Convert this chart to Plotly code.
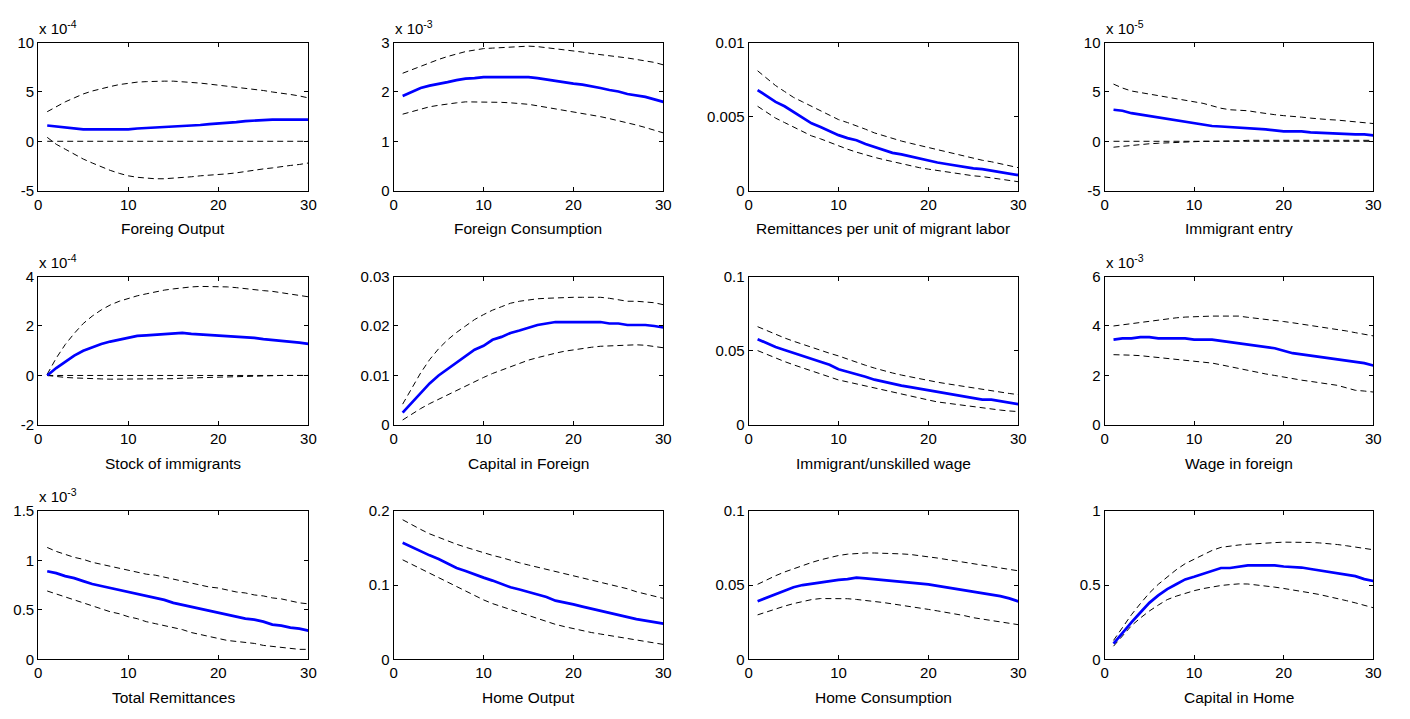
import plotly.graph_objects as go

W, H = 1410, 719
periods = list(range(1, 31))

# ---------------- data (values in axis units; multiplier shown in the corner label) ----------------
titles = ["Foreing Output", "Foreign Consumption", "Remittances per unit of migrant labor", "Immigrant entry",
          "Stock of immigrants", "Capital in Foreign", "Immigrant/unskilled wage", "Wage in foreign",
          "Total Remittances", "Home Output", "Home Consumption", "Capital in Home"]
multipliers = ["-4", "-3", None, "-5", "-4", None, None, "-3", "-3", None, None, None]
zero_line_panels = [0, 3, 4]

foreign_output_mean = [1.6,1.5,1.35,1.25,1.2,1.2,1.2,1.2,1.2,1.2,1.3,1.35,1.35,1.4,1.5,1.5,1.6,1.65,1.75,1.8,1.9,1.95,2.05,2.1,2.2,2.2,2.2,2.2,2.2,2.2]
foreign_output_upper = [3.0,3.5,4.0,4.4,4.8,5.1,5.35,5.55,5.75,5.9,6.0,6.05,6.1,6.1,6.1,6.05,6.0,5.9,5.8,5.7,5.6,5.5,5.4,5.3,5.15,5.0,4.9,4.75,4.6,4.4]
foreign_output_lower = [0.4,-0.3,-0.8,-1.3,-1.8,-2.2,-2.6,-2.95,-3.25,-3.5,-3.65,-3.75,-3.8,-3.8,-3.75,-3.7,-3.6,-3.5,-3.45,-3.4,-3.3,-3.2,-3.05,-2.95,-2.8,-2.7,-2.55,-2.45,-2.35,-2.2]

foreign_cons_mean = [1.92,2.0,2.08,2.13,2.16,2.2,2.24,2.27,2.28,2.3,2.3,2.3,2.3,2.3,2.3,2.28,2.25,2.22,2.2,2.17,2.15,2.12,2.08,2.04,2.01,1.96,1.93,1.9,1.85,1.8]
foreign_cons_upper = [2.38,2.45,2.53,2.6,2.66,2.72,2.77,2.82,2.85,2.88,2.89,2.9,2.91,2.92,2.93,2.92,2.9,2.88,2.86,2.84,2.81,2.78,2.76,2.73,2.71,2.69,2.66,2.63,2.6,2.55]
foreign_cons_lower = [1.55,1.6,1.65,1.7,1.73,1.76,1.78,1.8,1.8,1.8,1.8,1.79,1.78,1.77,1.75,1.72,1.69,1.66,1.63,1.6,1.57,1.53,1.5,1.46,1.42,1.38,1.33,1.28,1.22,1.17]

remit_unit_mean = [0.0068,0.0064,0.0060,0.0057,0.0053,0.0049,0.00455,0.0043,0.0040,0.00375,0.00355,0.0034,0.00315,0.00295,0.00275,0.00255,0.00245,0.0023,0.00215,0.0020,0.0019,0.0018,0.0017,0.00155,0.0015,0.00145,0.00135,0.00125,0.00115,0.00105]
remit_unit_upper = [0.0081,0.0076,0.0071,0.0067,0.0063,0.0060,0.0057,0.0054,0.0051,0.0048,0.0046,0.0044,0.00415,0.0039,0.0037,0.0035,0.00335,0.0032,0.00305,0.0029,0.00275,0.0026,0.00245,0.0023,0.0022,0.00205,0.00195,0.0018,0.0017,0.00155]
remit_unit_lower = [0.0057,0.0053,0.0049,0.0046,0.0043,0.0040,0.0037,0.0035,0.00325,0.0030,0.0028,0.0026,0.0024,0.00225,0.0021,0.00195,0.0018,0.0017,0.00155,0.00145,0.00135,0.00125,0.00115,0.0011,0.0010,0.00095,0.00085,0.0008,0.0007,0.0006]

entry_mean = [3.2,3.1,2.85,2.7,2.55,2.4,2.25,2.1,1.95,1.8,1.65,1.55,1.5,1.45,1.4,1.3,1.25,1.2,1.1,1.0,1.0,1.0,0.9,0.85,0.85,0.8,0.75,0.7,0.7,0.6]
entry_upper = [5.8,5.4,5.1,4.95,4.8,4.6,4.45,4.3,4.15,4.0,3.85,3.6,3.35,3.2,3.15,3.1,2.95,2.8,2.7,2.6,2.55,2.45,2.35,2.25,2.2,2.15,2.05,1.95,1.85,1.8]
entry_lower = [-0.6,-0.5,-0.4,-0.3,-0.25,-0.2,-0.15,-0.1,-0.1,-0.05,0,0,0,0,0.05,0.1,0.1,0.1,0.1,0.1,0.1,0.1,0.1,0.1,0.1,0.1,0.1,0.1,0.1,0.1]

stock_mean = [0.0,0.3,0.55,0.8,1.0,1.15,1.27,1.37,1.45,1.53,1.6,1.62,1.65,1.67,1.7,1.72,1.68,1.66,1.65,1.62,1.6,1.57,1.55,1.52,1.47,1.44,1.4,1.35,1.33,1.28]
stock_upper = [0.05,0.7,1.25,1.7,2.1,2.4,2.65,2.85,3.0,3.12,3.22,3.3,3.38,3.45,3.5,3.55,3.58,3.6,3.6,3.6,3.58,3.55,3.5,3.47,3.43,3.4,3.35,3.3,3.25,3.18]
stock_lower = [0,-0.05,-0.08,-0.1,-0.12,-0.13,-0.14,-0.15,-0.15,-0.15,-0.15,-0.15,-0.15,-0.15,-0.13,-0.11,-0.1,-0.09,-0.07,-0.05,-0.04,-0.03,-0.02,-0.01,0,0,0,0,0,0]

capital_foreign_mean = [0.0025,0.0045,0.0065,0.0084,0.0100,0.0113,0.0127,0.0140,0.0152,0.0160,0.0172,0.0178,0.0186,0.0191,0.0196,0.0202,0.0205,0.0208,0.0208,0.0208,0.0208,0.0208,0.0208,0.0205,0.0205,0.0202,0.0202,0.0202,0.0200,0.0197]
capital_foreign_upper = [0.0042,0.0075,0.0105,0.0132,0.0154,0.0172,0.0187,0.0200,0.0213,0.0223,0.0232,0.0239,0.0246,0.0250,0.0253,0.0255,0.0256,0.0257,0.0258,0.0258,0.0258,0.0258,0.0258,0.0256,0.0253,0.0250,0.0250,0.0249,0.0247,0.0243]
capital_foreign_lower = [0.0010,0.0022,0.0033,0.0043,0.0052,0.0061,0.0070,0.0079,0.0088,0.0096,0.0104,0.0111,0.0118,0.0125,0.0131,0.0136,0.0141,0.0145,0.0149,0.0152,0.0155,0.0157,0.0159,0.0160,0.0161,0.0162,0.0162,0.0161,0.0159,0.0156]

imm_wage_mean = [0.0578,0.0550,0.0525,0.0505,0.0485,0.0465,0.0445,0.0425,0.0405,0.0375,0.0360,0.0345,0.0325,0.0305,0.0290,0.0280,0.0265,0.0255,0.0245,0.0230,0.0220,0.0210,0.0200,0.0190,0.0180,0.0170,0.0170,0.0160,0.0150,0.0140]
imm_wage_upper = [0.0662,0.0635,0.0610,0.0586,0.0564,0.0543,0.0522,0.0502,0.0483,0.0465,0.0443,0.0422,0.0402,0.0383,0.0365,0.0350,0.0336,0.0323,0.0310,0.0298,0.0288,0.0278,0.0268,0.0258,0.0248,0.0239,0.0230,0.0221,0.0212,0.0204]
imm_wage_lower = [0.0501,0.0475,0.0450,0.0427,0.0405,0.0385,0.0365,0.0347,0.0326,0.0303,0.0290,0.0276,0.0262,0.0248,0.0233,0.0220,0.0207,0.0193,0.0180,0.0168,0.0155,0.0147,0.0139,0.0129,0.0120,0.0113,0.0106,0.0100,0.0094,0.0090]

wage_foreign_mean = [3.45,3.5,3.5,3.55,3.55,3.5,3.5,3.5,3.5,3.45,3.45,3.45,3.4,3.35,3.3,3.25,3.2,3.15,3.1,3.0,2.9,2.85,2.8,2.75,2.7,2.65,2.6,2.55,2.5,2.4]
wage_foreign_upper = [4.0,4.05,4.1,4.15,4.2,4.25,4.3,4.33,4.36,4.38,4.4,4.4,4.4,4.4,4.4,4.35,4.3,4.25,4.22,4.18,4.13,4.08,4.03,3.98,3.92,3.86,3.8,3.73,3.67,3.6]
wage_foreign_lower = [2.84,2.84,2.82,2.8,2.76,2.73,2.7,2.67,2.63,2.59,2.55,2.5,2.43,2.35,2.27,2.2,2.13,2.06,2.0,1.93,1.87,1.81,1.76,1.71,1.66,1.6,1.5,1.4,1.37,1.33]

total_remit_mean = [0.89,0.87,0.84,0.82,0.79,0.76,0.74,0.72,0.70,0.68,0.66,0.64,0.62,0.60,0.57,0.55,0.53,0.51,0.49,0.47,0.45,0.43,0.41,0.40,0.38,0.35,0.34,0.32,0.31,0.29]
total_remit_upper = [1.13,1.09,1.06,1.03,1.01,0.98,0.96,0.94,0.92,0.90,0.88,0.86,0.85,0.83,0.81,0.79,0.77,0.75,0.73,0.72,0.70,0.68,0.67,0.65,0.64,0.62,0.61,0.59,0.57,0.56]
total_remit_lower = [0.69,0.66,0.63,0.60,0.57,0.54,0.51,0.48,0.46,0.43,0.41,0.38,0.36,0.34,0.32,0.30,0.27,0.25,0.23,0.21,0.19,0.18,0.17,0.16,0.14,0.13,0.12,0.11,0.10,0.10]

home_output_mean = [0.157,0.151,0.145,0.140,0.135,0.129,0.123,0.119,0.114,0.110,0.106,0.101,0.097,0.094,0.091,0.087,0.084,0.079,0.077,0.074,0.071,0.068,0.065,0.062,0.060,0.056,0.054,0.052,0.050,0.048]
home_output_upper = [0.188,0.181,0.175,0.169,0.164,0.159,0.155,0.151,0.147,0.143,0.140,0.137,0.133,0.130,0.127,0.124,0.121,0.118,0.116,0.113,0.110,0.107,0.104,0.101,0.098,0.095,0.091,0.088,0.085,0.082]
home_output_lower = [0.134,0.128,0.121,0.115,0.109,0.103,0.097,0.091,0.086,0.080,0.075,0.071,0.066,0.062,0.058,0.054,0.051,0.047,0.044,0.041,0.039,0.036,0.034,0.032,0.030,0.028,0.026,0.024,0.022,0.020]

home_cons_mean = [0.0391,0.0415,0.0440,0.0465,0.0485,0.0500,0.0510,0.0520,0.0530,0.0535,0.0540,0.0550,0.0545,0.0540,0.0535,0.0530,0.0525,0.0515,0.0510,0.0505,0.0495,0.0485,0.0480,0.0470,0.0460,0.0445,0.0435,0.0425,0.0410,0.0390]
home_cons_upper = [0.0505,0.0535,0.0563,0.0588,0.0610,0.0632,0.0652,0.0670,0.0685,0.0699,0.0708,0.0713,0.0716,0.0716,0.0715,0.0713,0.0710,0.0706,0.0700,0.0690,0.0682,0.0673,0.0663,0.0653,0.0644,0.0634,0.0625,0.0615,0.0606,0.0596]
home_cons_lower = [0.0299,0.0320,0.0340,0.0358,0.0375,0.0390,0.0402,0.0409,0.0410,0.0410,0.0408,0.0403,0.0397,0.0390,0.0382,0.0373,0.0365,0.0356,0.0346,0.0336,0.0326,0.0316,0.0306,0.0294,0.0280,0.0270,0.0261,0.0251,0.0242,0.0233]

capital_home_mean = [0.105,0.18,0.248,0.315,0.38,0.43,0.473,0.505,0.538,0.556,0.574,0.594,0.615,0.615,0.624,0.633,0.633,0.633,0.633,0.625,0.622,0.618,0.608,0.598,0.589,0.58,0.57,0.56,0.54,0.527]
capital_home_upper = [0.127,0.215,0.30,0.375,0.446,0.505,0.556,0.603,0.644,0.675,0.705,0.733,0.754,0.763,0.77,0.775,0.78,0.783,0.786,0.789,0.79,0.789,0.787,0.784,0.78,0.773,0.765,0.757,0.748,0.738]
capital_home_lower = [0.088,0.16,0.226,0.278,0.325,0.365,0.402,0.425,0.446,0.462,0.476,0.488,0.497,0.503,0.508,0.507,0.501,0.494,0.486,0.477,0.468,0.458,0.447,0.436,0.424,0.41,0.395,0.38,0.363,0.347]

means = [foreign_output_mean, foreign_cons_mean, remit_unit_mean, entry_mean,
         stock_mean, capital_foreign_mean, imm_wage_mean, wage_foreign_mean,
         total_remit_mean, home_output_mean, home_cons_mean, capital_home_mean]
uppers = [foreign_output_upper, foreign_cons_upper, remit_unit_upper, entry_upper,
          stock_upper, capital_foreign_upper, imm_wage_upper, wage_foreign_upper,
          total_remit_upper, home_output_upper, home_cons_upper, capital_home_upper]
lowers = [foreign_output_lower, foreign_cons_lower, remit_unit_lower, entry_lower,
          stock_lower, capital_foreign_lower, imm_wage_lower, wage_foreign_lower,
          total_remit_lower, home_output_lower, home_cons_lower, capital_home_lower]

y_tickvals = [[-5, 0, 5, 10], [0, 1, 2, 3], [0, 0.005, 0.01], [-5, 0, 5, 10],
              [-2, 0, 2, 4], [0, 0.01, 0.02, 0.03], [0, 0.05, 0.1], [0, 2, 4, 6],
              [0, 0.5, 1, 1.5], [0, 0.1, 0.2], [0, 0.05, 0.1], [0, 0.5, 1]]
y_ticktext = [["-5", "0", "5", "10"], ["0", "1", "2", "3"], ["0", "0.005", "0.01"], ["-5", "0", "5", "10"],
              ["-2", "0", "2", "4"], ["0", "0.01", "0.02", "0.03"], ["0", "0.05", "0.1"], ["0", "2", "4", "6"],
              ["0", "0.5", "1", "1.5"], ["0", "0.1", "0.2"], ["0", "0.05", "0.1"], ["0", "0.5", "1"]]
x_tickvals = [0, 10, 20, 30]
x_ticktext = ["0", "10", "20", "30"]

# ---------------- layout geometry (pixels) ----------------
col_px = [(34.5, 307), (393, 665), (751, 1023), (1110, 1381)]
row_px = [(34.5, 186), (274, 426), (514, 666)]

FONT = "Arial, Liberation Sans, Helvetica, sans-serif"
TICK_SIZE = 15
TITLE_SIZE = 15.5
LINE_W = 1
fig = go.Figure()
annotations = []
axes = {}
dash = "6px,4px"

for i in range(12):
    r, c = divmod(i, 4)
    n = i + 1
    xa = "x" if n == 1 else f"x{n}"
    ya = "y" if n == 1 else f"y{n}"
    if i in zero_line_panels:
        fig.add_trace(go.Scatter(x=periods, y=[0] * len(periods), mode="lines", xaxis=xa, yaxis=ya,
                                 line=dict(color="black", width=1, dash=dash), showlegend=False, hoverinfo="skip"))
    fig.add_trace(go.Scatter(x=periods, y=uppers[i], mode="lines", xaxis=xa, yaxis=ya,
                             line=dict(color="black", width=1, dash=dash), showlegend=False))
    fig.add_trace(go.Scatter(x=periods, y=lowers[i], mode="lines", xaxis=xa, yaxis=ya,
                             line=dict(color="black", width=1, dash=dash), showlegend=False))
    fig.add_trace(go.Scatter(x=periods, y=means[i], mode="lines", xaxis=xa, yaxis=ya,
                             line=dict(color="rgb(0,0,255)", width=2.7), showlegend=False))

    x0, x1 = col_px[c]
    y0, y1 = row_px[r]
    tv = y_tickvals[i]
    common = dict(showline=True, linecolor="black", linewidth=LINE_W, mirror="ticks",
                  ticks="inside", ticklen=4, tickwidth=LINE_W, tickcolor="black",
                  showgrid=False, zeroline=False, layer="above traces",
                  tickfont=dict(family=FONT, size=TICK_SIZE, color="black"))
    axes["xaxis" if n == 1 else f"xaxis{n}"] = dict(
        domain=[x0 / W, x1 / W], anchor=ya, range=[0, 30],
        tickmode="array", tickvals=x_tickvals, ticktext=x_ticktext, **common)
    axes["yaxis" if n == 1 else f"yaxis{n}"] = dict(
        domain=[1 - y1 / H, 1 - y0 / H], anchor=xa, range=[tv[0], tv[-1]],
        tickmode="array", tickvals=tv, ticktext=y_ticktext[i], **common)

    annotations.append(dict(text=titles[i], xref="paper", yref="paper",
                            x=(x0 + x1) / 2 / W, y=1 - (y1 + 39) / H, xanchor="center", yanchor="middle",
                            showarrow=False, font=dict(family=FONT, size=TITLE_SIZE, color="black")))
    if multipliers[i]:
        annotations.append(dict(text=f"x 10<sup>{multipliers[i]}</sup>", xref="paper", yref="paper",
                                x=(x0 - 1) / W, y=1 - (y0 - 4) / H, xanchor="left", yanchor="bottom",
                                showarrow=False, font=dict(family=FONT, size=TICK_SIZE, color="black")))

fig.update_layout(width=W, height=H, margin=dict(l=0, r=0, t=0, b=0),
                  paper_bgcolor="white", plot_bgcolor="white", showlegend=False,
                  annotations=annotations,
                  font=dict(family=FONT, size=TICK_SIZE, color="black"), **axes)

fig.write_html("out.html")
